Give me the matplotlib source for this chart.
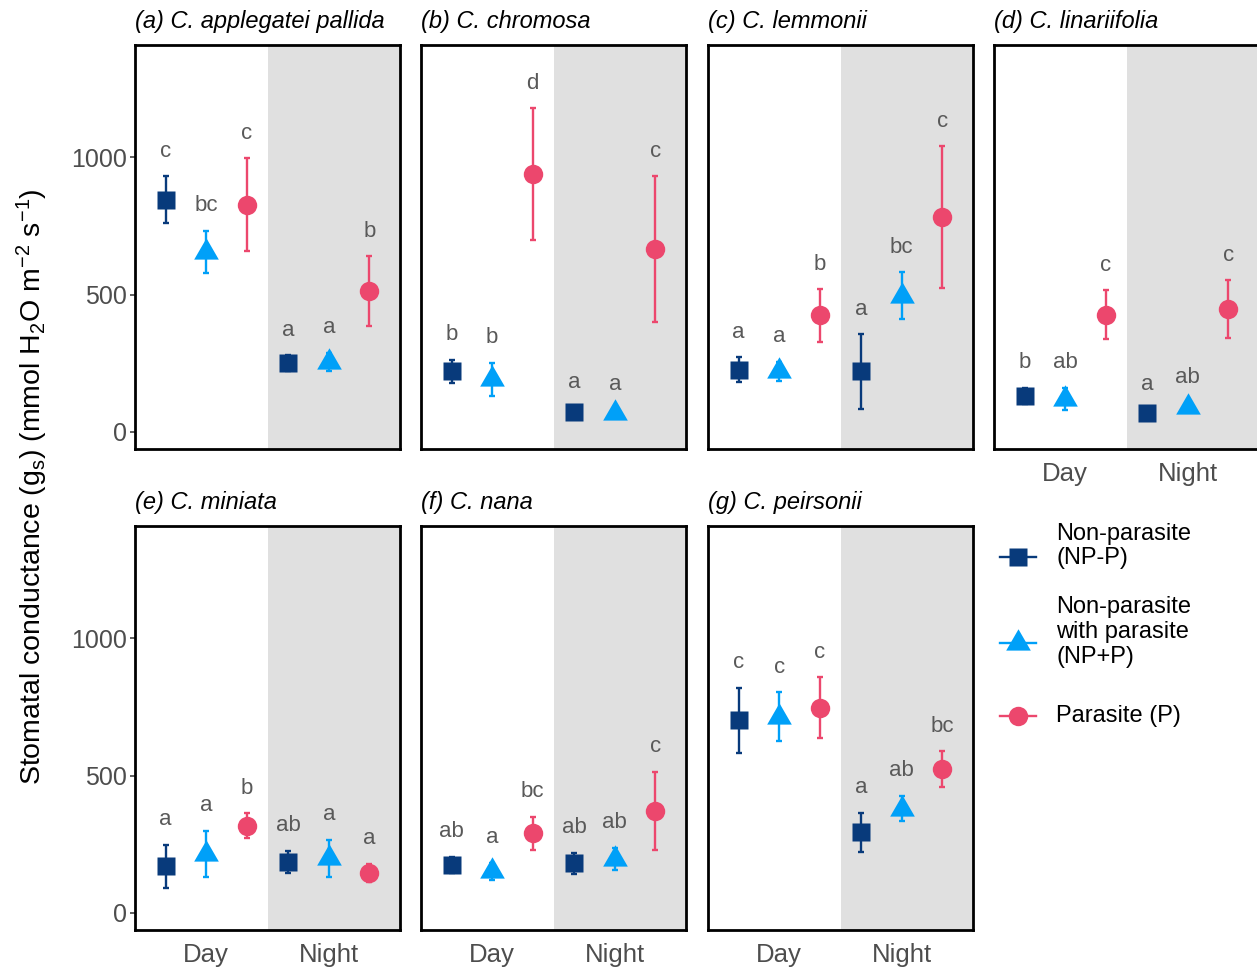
import matplotlib.pyplot as plt
import numpy as np

plt.rcParams['font.family'] = ['Liberation Sans', 'DejaVu Sans']
plt.rcParams['mathtext.fontset'] = 'custom'
plt.rcParams['mathtext.rm'] = 'Liberation Sans'
plt.rcParams['mathtext.it'] = 'Liberation Sans:italic'

species = ['(a) C. applegatei pallida', '(b) C. chromosa', '(c) C. lemmonii',
           '(d) C. linariifolia', '(e) C. miniata', '(f) C. nana', '(g) C. peirsonii']
periods = ['Day', 'Night']
groups = ['Non-parasite\n(NP-P)', 'Non-parasite\nwith parasite\n(NP+P)', 'Parasite (P)']

# mean stomatal conductance, [Day, Night] per species
mean_npp = [[845, 251], [220, 73], [227, 220], [131, 69], [170, 186], [175, 181], [701, 294]]
mean_nppp = [[655, 255], [191, 69], [220, 496], [120, 91], [215, 199], [151, 197], [714, 380]]
mean_p = [[827, 513], [938, 665], [424, 782], [427, 447], [318, 146], [290, 372], [746, 524]]

# standard errors
se_npp = [[85, 29], [42, 15], [45, 136], [29, 11], [78, 40], [29, 38], [119, 71]]
se_nppp = [[78, 33], [60, 11], [35, 85], [40, 15], [84, 68], [31, 40], [89, 47]]
se_p = [[169, 127], [240, 265], [96, 258], [89, 105], [44, 33], [60, 142], [111, 64]]

# Tukey groupings
let_npp = [['c', 'a'], ['b', 'a'], ['a', 'a'], ['b', 'a'], ['a', 'ab'], ['ab', 'ab'], ['c', 'a']]
let_nppp = [['bc', 'a'], ['b', 'a'], ['a', 'bc'], ['ab', 'ab'], ['a', 'a'], ['a', 'ab'], ['c', 'ab']]
let_p = [['c', 'b'], ['d', 'c'], ['b', 'c'], ['c', 'c'], ['b', 'a'], ['bc', 'c'], ['c', 'bc']]

colors = ['#083A7B', '#00A0F8', '#EC476D']
tri = [(0, 1), (-0.866, -0.5), (0.866, -0.5)]
markers = ['s', tri, 'o']
msizes = [13, 20.5, 14]
dodge = [-0.33, 0.0, 0.33]

W, H = 1257, 971
fig = plt.figure(figsize=(W / 100, H / 100), dpi=100)

lefts = [135, 421, 708, 994]
tops = [45, 526]
pw, ph = 265, 404


def panel_axes(row, col):
    l = lefts[col] / W
    b = 1 - (tops[row] + ph) / H
    return fig.add_axes([l, b, pw / W, ph / H])


means = [mean_npp, mean_nppp, mean_p]
ses = [se_npp, se_nppp, se_p]
lets = [let_npp, let_nppp, let_p]
xbase = np.arange(1, len(periods) + 1)

for i, name in enumerate(species):
    row, col = divmod(i, 4)
    ax = panel_axes(row, col)
    ax.set_xlim(0.42, 2.58)
    ax.set_ylim(-62, 1408)
    ax.axvspan(1.5, 3, color='#E0E0E0', lw=0, zorder=0)

    for g in range(3):
        x = xbase + dodge[g]
        y = np.array(means[g][i])
        e = np.array(ses[g][i])
        ax.errorbar(x, y, yerr=e, fmt='none', ecolor=colors[g],
                    elinewidth=1.7, capsize=2.2, capthick=1.7, zorder=2)
        ax.plot(x, y, ls='none', marker=markers[g], ms=msizes[g],
                color=colors[g], mec='none', zorder=3)
        for xi, yi, lab in zip(x, y + e, lets[g][i]):
            ax.annotate(lab, (xi, yi), xytext=(0, 18), textcoords='offset points',
                        ha='center', va='center', fontsize=16, color='#595959')

    ax.annotate(name, (0, 1), xycoords='axes fraction', xytext=(0, 12),
                textcoords='offset points', ha='left', va='baseline',
                fontsize=17, fontstyle='italic')

    for s in ax.spines.values():
        s.set_linewidth(2)
        s.set_color('black')

    ax.set_yticks([0, 500, 1000])
    ax.tick_params(axis='y', length=3.6, width=1.1, color='#333333', pad=2,
                   labelsize=18, labelcolor='#4D4D4D')
    if col != 0:
        ax.tick_params(axis='y', length=0, labelleft=False)

    ax.set_xticks(xbase)
    ax.set_xticklabels(periods)
    ax.tick_params(axis='x', length=0, pad=9, labelsize=18.5, labelcolor='#4D4D4D')
    if row == 0 and i + 4 < len(species):
        ax.tick_params(axis='x', labelbottom=False)

fig.text(32 / W, 1 - 487 / H,
         r'Stomatal conductance (g$_\mathregular{s}$) (mmol H$_\mathregular{2}$O m$^{\mathregular{-2}}$ s$^{\mathregular{-1}}$)',
         rotation=90, ha='center', va='center', fontsize=20.5)

# legend in the empty eighth slot
lax = fig.add_axes([0, 0, 1, 1])
lax.set_xlim(0, W)
lax.set_ylim(H, 0)
lax.axis('off')
key_y = [557, 643, 716]
text_y = [546, 632, 716]
for g in range(3):
    lax.plot([1000, 1036], [key_y[g], key_y[g]], color=colors[g], lw=1.7)
    lax.plot([1018], [key_y[g]], ls='none', marker=markers[g], ms=msizes[g],
             color=colors[g], mec='none')
    lax.text(1056, text_y[g], groups[g], ha='left', va='center',
             fontsize=17, linespacing=1.15)

fig.savefig('out.png', dpi=100)
